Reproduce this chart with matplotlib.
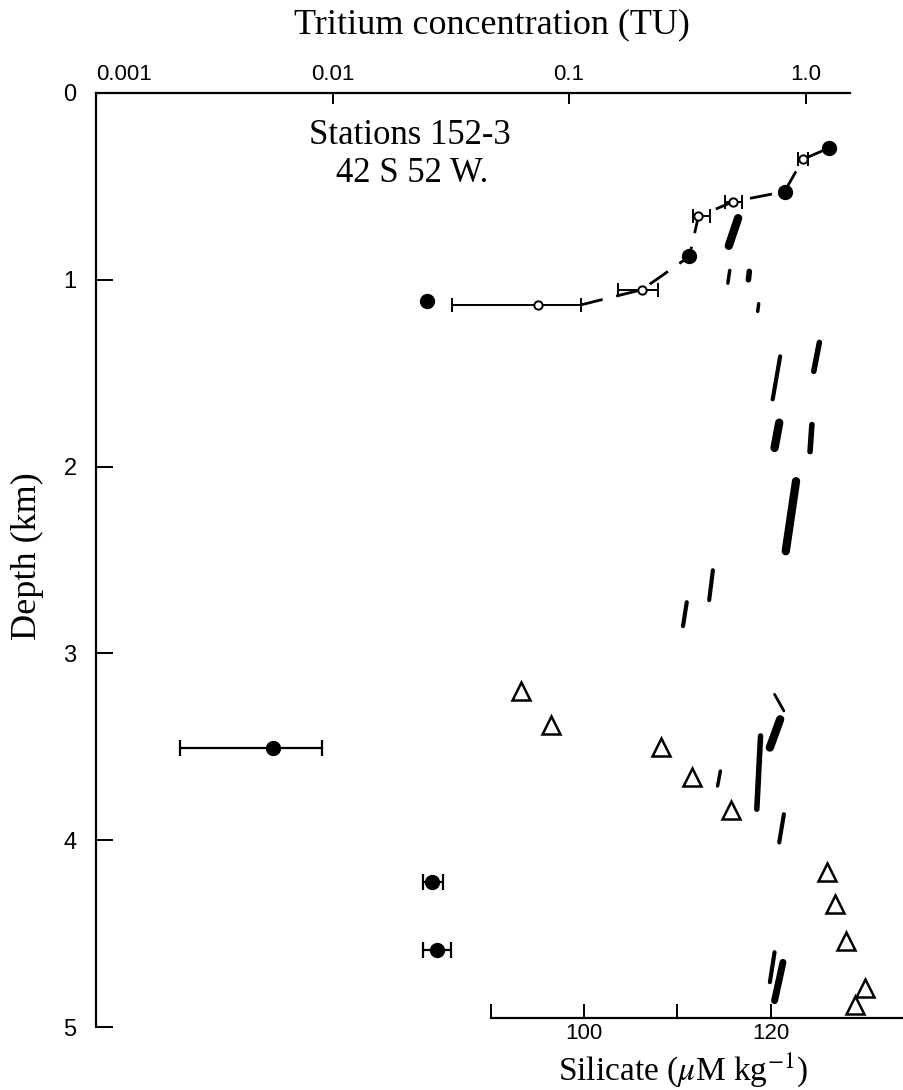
import matplotlib
matplotlib.use("Agg")
import matplotlib.pyplot as plt

plt.rcParams["mathtext.fontset"] = "stix"
SERIF = "Liberation Serif"
SANS = "Liberation Sans"

# ── Tritium (TU) vs depth (km) ────────────────────────────────────────────────
trit_filled_T   = [1.257, 0.814, 0.3226, 0.02502]
trit_filled_d   = [0.294, 0.528, 0.875, 1.112]

trit_open_T     = [0.973, 0.495, 0.352, 0.203, 0.0742]
trit_open_d     = [0.355, 0.581, 0.661, 1.053, 1.134]
trit_open_lo    = [0.929, 0.457, 0.3354, 0.1616, 0.0319]
trit_open_hi    = [1.025, 0.539, 0.3947, 0.2386, 0.1124]

# tiefe Proben mit Fehlerbalken
trit_deep_T     = [0.00559, 0.02642, 0.02758]
trit_deep_d     = [3.504, 4.223, 4.588]
trit_deep_lo    = [0.002266, 0.02406, 0.02421]
trit_deep_hi    = [0.00905, 0.02941, 0.03161]

# gestrichelte Kurve durch die oberen Werte
curve_T = [0.1124, 0.203, 0.3226, 0.352, 0.495, 0.814, 0.973, 1.257]
curve_d = [1.134, 1.053, 0.875, 0.661, 0.581, 0.528, 0.355, 0.294]

# ── Silikat (µM/kg) ───────────────────────────────────────────────────────────
si_tri   = [93.2, 96.5, 108.2, 111.6, 115.7, 126.0, 126.9, 128.1, 130.1, 129.0]
si_tri_d = [3.20, 3.385, 3.50, 3.66, 3.84, 4.17, 4.34, 4.54, 4.79, 4.88]

# kontinuierliches Profil (nur Fragmente im Scan sichtbar)
seg_si0 = [116.5, 115.6, 117.7, 118.7, 125.2, 121.0, 120.9, 124.4, 122.7, 113.8,
           111.0, 120.4, 121.0, 118.9, 114.6, 121.4, 120.4, 121.3]
seg_d0  = [0.670, 0.950, 0.955, 1.128, 1.335, 1.410, 1.765, 1.775, 2.078, 2.555,
           2.726, 3.219, 3.353, 3.442, 3.630, 3.861, 4.600, 4.654]
seg_si1 = [115.5, 115.4, 117.6, 118.6, 124.6, 120.2, 120.4, 124.2, 121.6, 113.4,
           110.6, 121.4, 119.9, 118.5, 114.3, 120.9, 119.9, 120.4]
seg_d1  = [0.818, 1.018, 1.000, 1.169, 1.490, 1.640, 1.900, 1.920, 2.453, 2.715,
           2.854, 3.308, 3.504, 3.834, 3.710, 4.012, 4.760, 4.859]
seg_lw  = [6, 2.5, 4, 2.5, 4, 3, 6, 4, 6, 3, 3, 2, 6, 4, 2.5, 3, 3, 5]

depth_ticks = [1, 2, 3, 4, 5]
trit_ticks  = [0.001, 0.01, 0.1, 1.0]
trit_labels = ["0.001", "0.01", "0.1", "1.0"]
si_ticks    = [90, 100, 110, 120]
si_labels   = ["", "100", "", "120"]

W, H = 904, 1090
fig = plt.figure(figsize=(W / 100, H / 100), dpi=100)

x0, y_top, y_bot = 96, 93, 1027
ax = fig.add_axes([x0 / W, 1 - y_bot / H, (850 - x0) / W, (y_bot - y_top) / H])
ax_si = fig.add_axes([x0 / W, 1 - y_bot / H, (W - x0) / W, (y_bot - y_top) / H])
ax_si.patch.set_alpha(0)

# ── Tritium-Achse ─────────────────────────────────────────────────────────────
ax.set_xscale("log")
ax.set_xlim(0.001, 1.54)
ax.set_ylim(5, 0)
for s in ["right", "bottom"]:
    ax.spines[s].set_visible(False)
for s in ["left", "top"]:
    ax.spines[s].set_linewidth(1.6)
ax.spines["left"].set_bounds(0, 5)
ax.xaxis.tick_top()
ax.minorticks_off()
ax.set_xticks(trit_ticks)
ax.set_xticklabels(trit_labels)
ax.tick_params(axis="x", direction="in", length=8, width=1.4, pad=6, labelsize=16)
for lab in ax.get_xticklabels():
    lab.set_fontfamily(SANS)
ax.get_xticklabels()[0].set_horizontalalignment("left")
ax.set_yticks(depth_ticks)
ax.set_yticklabels([str(t) for t in depth_ticks], fontfamily=SANS)
ax.tick_params(axis="y", direction="in", length=12, width=1.4, pad=14, labelsize=17)
fig.text(76 / W, 1 - 95 / H, "0", ha="right", va="center", fontsize=17,
         fontfamily=SANS)

fig.text(492 / W, 1 - 33 / H, "Tritium concentration (TU)", ha="center",
         va="baseline", fontfamily=SERIF, fontsize=26)
fig.text(27 / W, 1 - 556 / H, "Depth (km)", ha="center", va="center",
         rotation=90, fontfamily=SERIF, fontsize=26)

ax.plot(curve_T, curve_d, color="black", lw=2.0, ls=(0, (8, 5)), zorder=2)

xerr_open = [[t - lo for t, lo in zip(trit_open_T, trit_open_lo)],
             [hi - t for t, hi in zip(trit_open_T, trit_open_hi)]]
ax.errorbar(trit_open_T, trit_open_d, xerr=xerr_open, fmt="o", ms=6,
            mfc="white", mec="black", mew=1.4, ecolor="black", elinewidth=1.4,
            capsize=5, capthick=1.4, zorder=3)
ax.plot(trit_filled_T, trit_filled_d, "o", color="black", ms=10, zorder=4)
xerr_deep = [[t - lo for t, lo in zip(trit_deep_T, trit_deep_lo)],
             [hi - t for t, hi in zip(trit_deep_T, trit_deep_hi)]]
ax.errorbar(trit_deep_T, trit_deep_d, xerr=xerr_deep, fmt="o", ms=10,
            color="black", elinewidth=1.6, capsize=6, capthick=1.6, zorder=4)

fig.text(410 / W, 1 - 144 / H, "Stations 152-3", ha="center", va="baseline",
         fontfamily=SERIF, fontsize=25)
fig.text(412 / W, 1 - 182 / H, "42 S 52 W.", ha="center", va="baseline",
         fontfamily=SERIF, fontsize=25)

# ── Silikat-Achse ─────────────────────────────────────────────────────────────
ax_si.set_xlim(47.75, 134.26)
ax_si.set_ylim(5, 0)
for s in ["left", "right", "top"]:
    ax_si.spines[s].set_visible(False)
ax_si.spines["bottom"].set_position(("data", 4.95))
ax_si.spines["bottom"].set_bounds(90, 134.26)
ax_si.spines["bottom"].set_linewidth(1.6)
ax_si.set_yticks([])
ax_si.set_xticks(si_ticks)
ax_si.set_xticklabels(si_labels, fontfamily=SANS)
ax_si.tick_params(axis="x", direction="in", length=10, width=1.4, pad=4, labelsize=16)
fig.text(683 / W, 1 - 1080 / H, r"Silicate ($\mu$M kg$^{-1}$)", ha="center",
         va="baseline", fontfamily=SERIF, fontsize=24)

ax_si.plot(si_tri, si_tri_d, "^", ms=13, mfc="white", mec="black", mew=1.8,
           ls="none", zorder=3)
for a, b, c, d, lw in zip(seg_si0, seg_d0, seg_si1, seg_d1, seg_lw):
    ax_si.plot([a, c], [b, d], color="black", lw=lw, solid_capstyle="round")

plt.savefig("out.png", dpi=100)
